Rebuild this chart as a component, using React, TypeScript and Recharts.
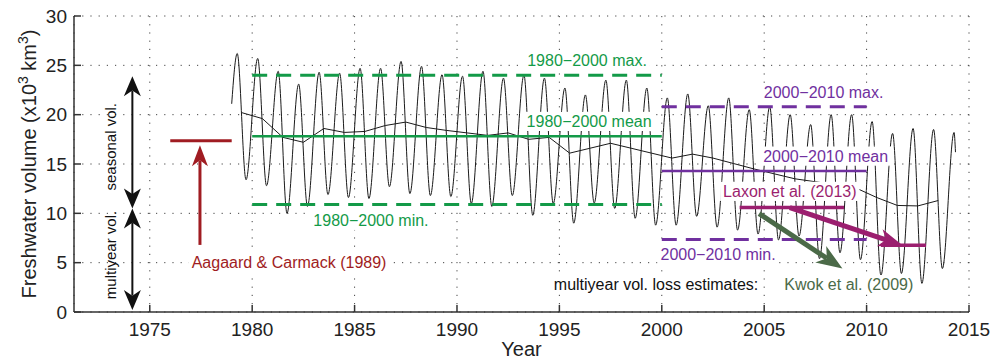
import React from "react";
import {
  CartesianGrid,
  ComposedChart,
  Line,
  ReferenceDot,
  ReferenceLine,
  XAxis,
  YAxis,
} from "recharts";

const FONT = '"Liberation Sans", Arial, Helvetica, sans-serif';

// seasonal cycle: one maximum and one minimum per year (x10^3 km^3)
const FIRST_YEAR = 1979;
const annualMax = [
  26.2, 25.7, 24.4, 23.1, 24.3, 24.2, 24.7, 24.7, 25.4, 24.9, 24.05, 23.9,
  24.4, 23.7, 24.0, 23.7, 22.7, 22.0, 23.5, 23.5, 22.7, 21.7, 22.1, 20.9,
  21.7, 20.5, 20.8, 20.0, 19.0, 20.0, 20.0, 19.3, 18.1, 18.6, 18.5, 18.2,
];
const annualMin = [
  13.4, 12.8, 10.0, 10.7, 11.9, 11.6, 11.5, 12.7, 12.0, 11.8, 11.7, 11.0,
  10.7, 11.8, 9.8, 11.0, 9.0, 11.05, 10.5, 9.5, 8.8, 8.8, 9.7, 8.6,
  8.3, 7.9, 7.3, 7.7, 5.4, 6.0, 5.3, 3.7, 3.9, 2.9, 4.4,
];
const PEAK_PHASE = 0.27;
const TROUGH_PHASE = 0.7;
const CURVE_START = { t: 1979.0, v: 21.1 };
const CURVE_END = { t: 2014.34, v: 16.2 };

// annual mean, plotted mid-year
const annualMean = [
  20.2, 19.6, 17.7, 17.2, 18.6, 18.2, 18.3, 18.9, 19.25, 18.7, 18.4, 18.15,
  17.9, 18.15, 17.5, 17.7, 16.1, 16.6, 17.1, 16.6, 16.1, 15.6, 16.0, 15.6,
  15.05, 14.5, 14.0, 13.5, 13.2, 12.9, 12.55, 11.6, 10.8, 10.75, 11.3,
];

const xTicks = [1975, 1980, 1985, 1990, 1995, 2000, 2005, 2010, 2015];
const yTicks = [0, 5, 10, 15, 20, 25, 30];

// period statistics
const P1 = [1980, 2000];
const P1_MAX = 24.0;
const P1_MEAN = 17.8;
const P1_MIN = 10.9;
const P2 = [2000, 2010];
const P2_MAX = 20.8;
const P2_MEAN = 14.3;
const P2_MIN = 7.35;

// Aagaard & Carmack (1989)
const AAGAARD_SPAN = [1976.0, 1979.0];
const AAGAARD_VALUE = 17.35;
const AAGAARD_ARROW = [[1977.45, 6.8], [1977.45, 16.9]];

// multiyear loss estimates
const LAXON_BEFORE = [2003.8, 2008.9];
const LAXON_BEFORE_VALUE = 10.58;
const LAXON_AFTER = [2010.7, 2012.9];
const LAXON_AFTER_VALUE = 6.76;
const LAXON_ARROW = [[2006.25, 10.58], [2011.75, 6.76]];
const KWOK_ARROW = [[2004.75, 9.97], [2008.82, 4.4]];

// left hand volume brackets
const BRACKET_X = 1974.15;
const SEASONAL_RANGE = [10.5, 23.9];
const MULTIYEAR_RANGE = [0.2, 10.5];

const GREEN = "#139a48";
const PURPLE = "#70309f";
const DARKRED = "#a01c22";
const MAGENTA = "#9b1f6f";
const KWOK = "#4b6a48";

const seasonal = [
  CURVE_START,
  ...annualMax.flatMap((mx, i) => {
    const yr = FIRST_YEAR + i;
    const pts = [{ t: yr + PEAK_PHASE, v: mx }];
    if (i < annualMin.length) pts.push({ t: yr + TROUGH_PHASE, v: annualMin[i] });
    return pts;
  }),
  CURVE_END,
];
const meanSeries = annualMean.map((v, i) => ({ t: FIRST_YEAR + i + 0.5, v }));

// text annotations, anchored at (year, volume) = centre of the baseline
const noteText = [
  "1980\u22122000 max.",
  "1980\u22122000 mean",
  "1980\u22122000 min.",
  "2000\u22122010 max.",
  "2000\u22122010 mean",
  "2000\u22122010 min.",
  "Laxon et al. (2013)",
  "Kwok et al. (2009)",
  "multiyear vol. loss estimates:",
  "Aagaard & Carmack (1989)",
];
const noteYear = [1996.35, 1996.45, 1985.8, 2007.9, 2008.0, 2002.75, 2006.25, 2009.13, 1999.72, 1981.8];
const noteVolume = [24.95, 18.75, 8.72, 21.66, 15.23, 5.27, 11.66, 2.23, 2.23, 4.46];
const noteColor = [GREEN, GREEN, GREEN, PURPLE, PURPLE, PURPLE, MAGENTA, KWOK, "#111", DARKRED];
const notePoints = noteText.map((_, i) => ({ t: noteYear[i], v: noteVolume[i] }));

const sideLabels = [
  { x: 1973.35, y: 16.75, text: "seasonal vol." },
  { x: 1973.35, y: 5.78, text: "multiyear vol." },
];

let measureCtx: CanvasRenderingContext2D | null = null;
function textWidth(s: string, size: number) {
  if (!measureCtx && typeof document !== "undefined") {
    measureCtx = document.createElement("canvas").getContext("2d");
  }
  if (!measureCtx) return s.length * size * 0.55;
  measureCtx.font = `${size}px "Liberation Sans", Arial`;
  return measureCtx.measureText(s).width;
}

function renderNote(p: any) {
  const i = p.index;
  const text = noteText[i];
  if (text == null) return <g />;
  const size = 16;
  const w = textWidth(text, size);
  const cx = p.x;
  const cy = p.y;
  return (
    <g key={text}>
      <rect x={cx - w / 2 - 3} y={cy - size * 0.95} width={w + 6} height={size * 1.2} fill="#fff" />
      <text x={cx} y={cy} textAnchor="middle" fill={noteColor[i]} fontSize={size} fontFamily={FONT}>
        {text}
      </text>
    </g>
  );
}

function makeArrow(color: string, width: number, len: number, half: number, both: boolean) {
  return (p: any) => {
    const { x1, y1, x2, y2 } = p;
    const dx = x2 - x1;
    const dy = y2 - y1;
    const d = Math.hypot(dx, dy) || 1;
    const ux = dx / d;
    const uy = dy / d;
    const nx = -uy;
    const ny = ux;
    const notch = len * 0.72;
    const head = (tx: number, ty: number, sx: number, sy: number) => {
      const bx = tx - sx * len;
      const by = ty - sy * len;
      return `M${tx},${ty} L${bx + nx * half},${by + ny * half} L${tx - sx * notch},${ty - sy * notch} L${bx - nx * half},${by - ny * half} Z`;
    };
    const sx = both ? x1 + ux * notch : x1;
    const sy = both ? y1 + uy * notch : y1;
    return (
      <g>
        <line x1={sx} y1={sy} x2={x2 - ux * notch} y2={y2 - uy * notch} stroke={color} strokeWidth={width} />
        <path d={head(x2, y2, ux, uy)} fill={color} />
        {both && <path d={head(x1, y1, -ux, -uy)} fill={color} />}
      </g>
    );
  };
}

const seg = (x1: number, y1: number, x2: number, y2: number) => [
  { x: x1, y: y1 },
  { x: x2, y: y2 },
];

const noTick = () => <g />;

export default function App() {
  return (
    <div style={{ position: "absolute", left: 0, top: 0, background: "#fff" }}>
      <ComposedChart width={990} height={360} margin={{ top: 16, right: 21, bottom: 0, left: 0 }}>
        <CartesianGrid stroke="#444" strokeDasharray="1.2 7" />
        <XAxis
          dataKey="t"
          type="number"
          domain={[1971.3, 2015]}
          ticks={xTicks}
          allowDataOverflow
          height={48}
          tickSize={-7}
          tickMargin={18}
          stroke="#333"
          strokeWidth={1.5}
          tick={{ fontSize: 19, fill: "#222", fontFamily: FONT }}
          label={(p: any) => {
            const vb = p.viewBox;
            return (
              <text x={vb.x + vb.width / 2} y={356} textAnchor="middle" fontSize={20} fill="#222" fontFamily={FONT}>
                Year
              </text>
            );
          }}
        />
        <XAxis
          xAxisId="top"
          orientation="top"
          dataKey="t"
          type="number"
          domain={[1971.3, 2015]}
          ticks={xTicks}
          allowDataOverflow
          height={0}
          tickSize={-7}
          stroke="#333"
          strokeWidth={1.5}
          tick={noTick}
        />
        <YAxis
          type="number"
          domain={[0, 30]}
          ticks={yTicks}
          width={74}
          tickSize={-7}
          tickMargin={14}
          stroke="#333"
          strokeWidth={1.5}
          tick={{ fontSize: 19, fill: "#222", fontFamily: FONT }}
          label={(p: any) => {
            const vb = p.viewBox;
            const cx = 36;
            const cy = vb.y + vb.height / 2;
            return (
              <text
                x={cx}
                y={cy}
                transform={`rotate(-90, ${cx}, ${cy})`}
                textAnchor="middle"
                fontSize={20}
                fill="#222"
                fontFamily={FONT}
              >
                Freshwater volume (x10
                <tspan dy={-8} fontSize={14}>3</tspan>
                <tspan dy={8}> km</tspan>
                <tspan dy={-8} fontSize={14}>3</tspan>
                <tspan dy={8}>)</tspan>
              </text>
            );
          }}
        />
        <YAxis
          yAxisId="right"
          orientation="right"
          type="number"
          domain={[0, 30]}
          ticks={yTicks}
          width={0}
          tickSize={-7}
          stroke="#333"
          strokeWidth={1.5}
          tick={noTick}
        />

        <Line
          data={seasonal}
          dataKey="v"
          type="monotone"
          stroke="#1a1a1a"
          strokeWidth={1}
          dot={false}
          isAnimationActive={false}
        />
        <Line
          data={meanSeries}
          dataKey="v"
          type="linear"
          stroke="#1a1a1a"
          strokeWidth={1}
          dot={false}
          isAnimationActive={false}
        />
        {/* carrier for the boxed text notes, drawn after the curves */}
        <Line
          data={notePoints}
          dataKey="v"
          stroke="none"
          dot={false}
          activeDot={false}
          isAnimationActive={false}
          label={renderNote}
        />

        {sideLabels.map((n) => (
          <ReferenceDot
            key={n.text}
            x={n.x}
            y={n.y}
            r={0}
            ifOverflow="visible"
            shape={(p: any) => (
              <text
                x={p.cx}
                y={p.cy}
                transform={`rotate(-90, ${p.cx}, ${p.cy})`}
                textAnchor="middle"
                fontSize={15}
                fill="#111"
                fontFamily={FONT}
              >
                {n.text}
              </text>
            )}
          />
        ))}

        <ReferenceLine segment={seg(P1[0], P1_MAX, P1[1], P1_MAX)} stroke={GREEN} strokeWidth={3} strokeDasharray="15 9" />
        <ReferenceLine segment={seg(P1[0], P1_MEAN, P1[1], P1_MEAN)} stroke={GREEN} strokeWidth={2.5} />
        <ReferenceLine segment={seg(P1[0], P1_MIN, P1[1], P1_MIN)} stroke={GREEN} strokeWidth={3} strokeDasharray="15 9" />
        <ReferenceLine segment={seg(P2[0], P2_MAX, P2[1], P2_MAX)} stroke={PURPLE} strokeWidth={3} strokeDasharray="15 9" />
        <ReferenceLine segment={seg(P2[0], P2_MEAN, P2[1], P2_MEAN)} stroke={PURPLE} strokeWidth={2.5} />
        <ReferenceLine segment={seg(P2[0], P2_MIN, P2[1], P2_MIN)} stroke={PURPLE} strokeWidth={3} strokeDasharray="15 9" />

        <ReferenceLine
          segment={seg(AAGAARD_SPAN[0], AAGAARD_VALUE, AAGAARD_SPAN[1], AAGAARD_VALUE)}
          stroke={DARKRED}
          strokeWidth={3}
        />
        <ReferenceLine
          segment={seg(AAGAARD_ARROW[0][0], AAGAARD_ARROW[0][1], AAGAARD_ARROW[1][0], AAGAARD_ARROW[1][1])}
          shape={makeArrow(DARKRED, 3, 21, 8, false)}
        />

        <ReferenceLine
          segment={seg(LAXON_BEFORE[0], LAXON_BEFORE_VALUE, LAXON_BEFORE[1], LAXON_BEFORE_VALUE)}
          stroke={MAGENTA}
          strokeWidth={3.5}
        />
        <ReferenceLine
          segment={seg(LAXON_AFTER[0], LAXON_AFTER_VALUE, LAXON_AFTER[1], LAXON_AFTER_VALUE)}
          stroke={MAGENTA}
          strokeWidth={3.5}
        />
        <ReferenceLine
          segment={seg(KWOK_ARROW[0][0], KWOK_ARROW[0][1], KWOK_ARROW[1][0], KWOK_ARROW[1][1])}
          shape={makeArrow(KWOK, 5, 26, 10, false)}
        />
        <ReferenceLine
          segment={seg(LAXON_ARROW[0][0], LAXON_ARROW[0][1], LAXON_ARROW[1][0], LAXON_ARROW[1][1])}
          shape={makeArrow(MAGENTA, 5, 24, 9, false)}
        />

        <ReferenceLine
          segment={seg(BRACKET_X, SEASONAL_RANGE[0], BRACKET_X, SEASONAL_RANGE[1])}
          shape={makeArrow("#111", 2, 20, 8.5, true)}
        />
        <ReferenceLine
          segment={seg(BRACKET_X, MULTIYEAR_RANGE[0], BRACKET_X, MULTIYEAR_RANGE[1])}
          shape={makeArrow("#111", 2, 20, 8.5, true)}
        />
      </ComposedChart>
    </div>
  );
}
